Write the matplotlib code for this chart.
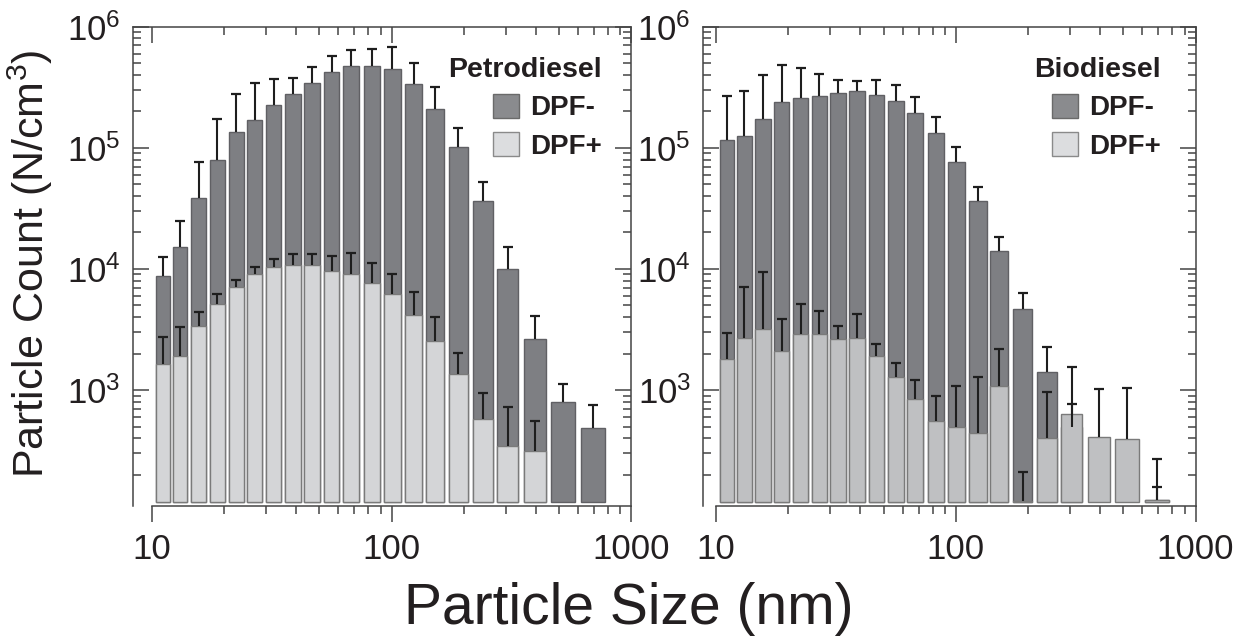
import numpy as np
import matplotlib
matplotlib.use("Agg")
import matplotlib.pyplot as plt
from matplotlib.patches import Patch
from matplotlib.ticker import LogLocator, NullFormatter, FixedLocator

plt.rcParams['font.family'] = ['Liberation Sans', 'DejaVu Sans']
plt.rcParams['mathtext.fontset'] = 'custom'
plt.rcParams['mathtext.rm'] = 'Liberation Sans'
plt.rcParams['mathtext.it'] = 'Liberation Sans:italic'
plt.rcParams['mathtext.bf'] = 'Liberation Sans:bold'

# particle size bin midpoints (nm)
sizes = np.array([11.1, 13.1, 15.7, 18.8, 22.5, 26.9, 32.2, 38.8, 46.6, 56.2, 67.8,
                  82.7, 100.5, 123.5, 152, 190, 240, 305, 395, 518, 690])

# petrodiesel: mean counts and upper whisker (mean + sd), N/cm3
petro_minus = np.array([8800, 15100, 38500, 80000, 134000, 171000, 224000, 279000, 343000,
                        423000, 472000, 471000, 446000, 335000, 211000, 101000, 36100,
                        9900, 2630, 796, 483], dtype=float)
petro_minus_up = np.array([12600, 24700, 75800, 172000, 279000, 342000, 368000, 378000,
                           463000, 578000, 643000, 651000, 680000, 502000, 315000, 145000,
                           52400, 15200, 4120, 1130, 756], dtype=float)
petro_plus = np.array([1640, 1900, 3350, 5150, 7150, 9040, 10400, 10700, 10700, 9700, 9150,
                       7670, 6260, 4180, 2540, 1350, 580, 345, 316, np.nan, np.nan])
petro_plus_up = np.array([2740, 3300, 4420, 6190, 8070, 10450, 12100, 13400, 13300, 12700,
                          13450, 11200, 9090, 6420, 4020, 2030, 950, 724, 551, np.nan, np.nan])

# biodiesel
bio_minus = np.array([115800, 124100, 171500, 238000, 260000, 267000, 286000, 292000, 273500,
                      243000, 192000, 131400, 75800, 36100, 14070, 4710, 1420, 500,
                      np.nan, np.nan, 123])
bio_minus_up = np.array([267000, 295000, 397500, 483500, 454000, 407000, 366000, 357000,
                         364000, 331000, 262000, 179000, 101300, 47700, 18350, 6300, 2270,
                         767, np.nan, np.nan, 157])
bio_plus = np.array([1790, 2680, 3220, 2100, 2910, 2930, 2660, 2690, 1905, 1280, 848, 555,
                     500, 439, 1071, 122, 399, 638, 410, 394, 123], dtype=float)
bio_plus_up = np.array([2950, 7110, 9450, 3890, 5180, 4530, 3390, 4280, 2420, 1680, 1200,
                        886, 1085, 1270, 2190, 209, 955, 1565, 1020, 1035, 272], dtype=float)

BASE = 120
dark = '#7e7f83'
spine_c = '#444444'
x_minor = [m * d for d in (10, 100) for m in range(2, 10)]

fig = plt.figure(figsize=(12.46, 6.38), dpi=100)
ax1 = fig.add_axes([0.107, 0.2066, 0.3998, 0.7516])
ax2 = fig.add_axes([0.5645, 0.2066, 0.395, 0.7516])

# bar edges in log space
lc = np.log10(sizes)
half = 0.405 * np.gradient(lc)
left = 10 ** (lc - half)
width = 10 ** (lc + half) - left


def bars(ax, vals, color, ec, z):
    m = ~np.isnan(vals)
    ax.bar(left[m], vals[m] - BASE, width=width[m], bottom=BASE, align='edge',
           color=color, edgecolor=ec, linewidth=1.0, zorder=z)


def whiskers(ax, vals, ups):
    m = ~np.isnan(vals)
    ax.vlines(sizes[m], vals[m], ups[m], color='#1e1e1e', lw=1.5, zorder=6)
    ax.plot(sizes[m], ups[m], ls='none', marker='_', ms=6.5, mew=1.6,
            color='#1e1e1e', zorder=6)


def panel(ax, minus, minus_up, plus, plus_up, light, title, xmin, anchor):
    bars(ax, minus, dark, '#606064', 2)
    bars(ax, plus, light, '#7a7a7a', 3)
    whiskers(ax, minus, minus_up)
    whiskers(ax, plus, plus_up)

    ax.set_xscale('log')
    ax.set_yscale('log')
    ax.set_xlim(xmin, 1000)
    ax.set_ylim(110, 1e6)

    ax.spines['bottom'].set_bounds(10, 1000)
    for s in ax.spines.values():
        s.set_color(spine_c)
        s.set_linewidth(1.1)

    ax.yaxis.set_major_locator(LogLocator(base=10, numticks=10))
    ax.yaxis.set_minor_locator(LogLocator(base=10, subs=np.arange(2, 10), numticks=20))
    ax.yaxis.set_minor_formatter(NullFormatter())
    ax.set_xticks([10, 100, 1000])
    ax.set_xticklabels(['10', '100', '1000'])
    ax.xaxis.set_minor_locator(FixedLocator(x_minor))
    ax.xaxis.set_minor_formatter(NullFormatter())

    ax.tick_params(axis='y', which='both', direction='in', left=True, right=True,
                   color=spine_c, width=1.1, labelsize=25, pad=9, labelcolor='#231f20')
    ax.tick_params(axis='y', which='major', length=11.5)
    ax.tick_params(axis='y', which='minor', length=5.8)
    ax.tick_params(axis='x', which='both', direction='out', top=False, color=spine_c,
                   width=1.1, labelsize=25, labelcolor='#231f20')
    ax.tick_params(axis='x', which='major', length=11.5, pad=8)
    ax.tick_params(axis='x', which='minor', length=6.0)

    # inward ticks along the top edge
    tw = ax.twiny()
    tw.set_xscale('log')
    tw.set_xlim(ax.get_xlim())
    tw.set_xticks([10, 100, 1000])
    tw.xaxis.set_minor_locator(FixedLocator(x_minor))
    tw.xaxis.set_minor_formatter(NullFormatter())
    tw.tick_params(axis='x', which='both', direction='in', labeltop=False,
                   color=spine_c, width=1.1)
    tw.tick_params(axis='x', which='major', length=11.5)
    tw.tick_params(axis='x', which='minor', length=5.8)
    for s in tw.spines.values():
        s.set_visible(False)

    handles = [Patch(facecolor='#8a8b8e', edgecolor='#6a6a6a', label='DPF-'),
               Patch(facecolor='#dcdddf', edgecolor='#8a8a8a', label='DPF+')]
    leg = ax.legend(handles=handles, title=title, loc='upper right',
                    bbox_to_anchor=anchor, frameon=False, borderpad=0,
                    borderaxespad=0, handlelength=0.93, handleheight=0.93,
                    handletextpad=0.4, labelspacing=0.4, alignment='right',
                    prop={'size': 20, 'weight': 'bold'},
                    title_fontproperties={'size': 20.5, 'weight': 'bold'})
    for t in leg.get_texts():
        t.set_color('#231f20')
    leg.get_title().set_color('#231f20')


panel(ax1, petro_minus, petro_minus_up, petro_plus, petro_plus_up, '#d4d5d7',
      'Petrodiesel', 8.38, (0.94, 0.937))
panel(ax2, bio_minus, bio_minus_up, bio_plus, bio_plus_up, '#bfc0c2',
      'Biodiesel', 8.85, (0.93, 0.937))

fig.text(0.024, 0.587, 'Particle Count (N/cm$^3$)', rotation=90, ha='center',
         va='center', fontsize=31, color='#231f20')
fig.text(0.505, 0.045, 'Particle Size (nm)', ha='center', va='center',
         fontsize=41, color='#231f20')

fig.savefig('out.png', dpi=100)
